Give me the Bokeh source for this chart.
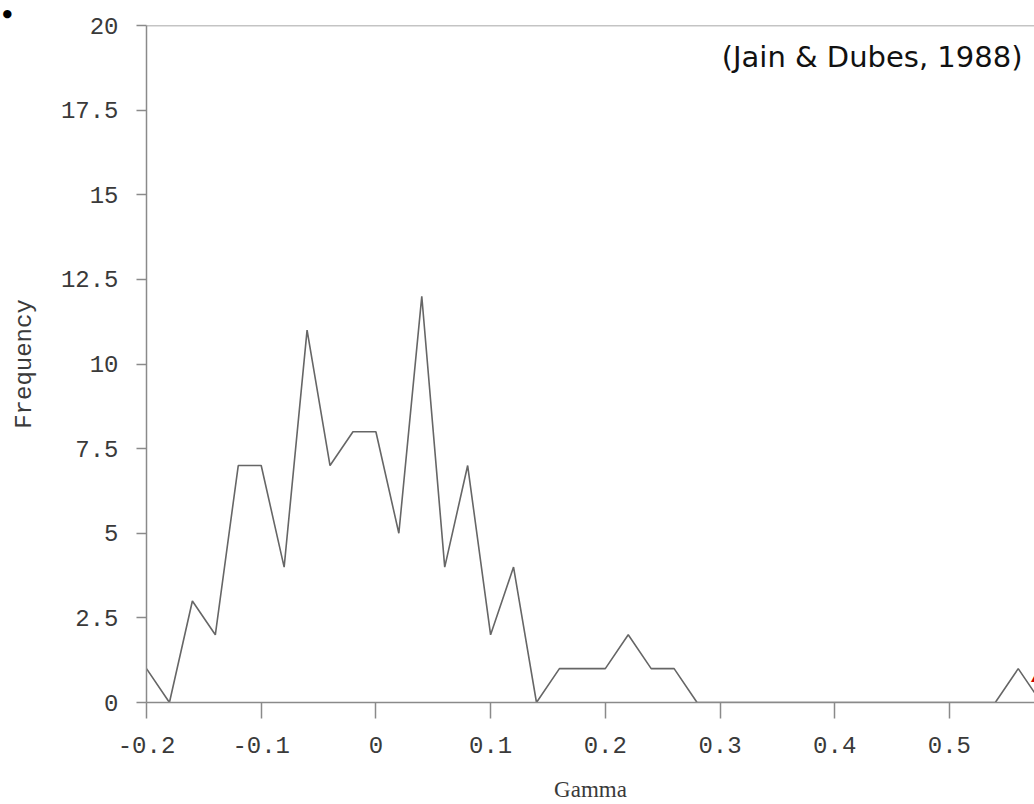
from bokeh.plotting import figure
from bokeh.models import Range1d, FixedTicker, Label, Span
from bokeh.embed import file_html
from bokeh.resources import INLINE

# Frequency polygon of Gamma values (Jain & Dubes, 1988)
gamma = [-0.20, -0.18, -0.16, -0.14, -0.12, -0.10, -0.08, -0.06, -0.04, -0.02,
         0.00, 0.02, 0.04, 0.06, 0.08, 0.10, 0.12, 0.14, 0.16, 0.18,
         0.20, 0.22, 0.24, 0.26, 0.28, 0.30, 0.32, 0.34, 0.36, 0.38,
         0.40, 0.42, 0.44, 0.46, 0.48, 0.50, 0.52, 0.54, 0.56, 0.58, 0.60]
frequency = [1, 0, 3, 2, 7, 7, 4, 11, 7, 8,
             8, 5, 12, 4, 7, 2, 4, 0, 1, 1,
             1, 2, 1, 1, 0, 0, 0, 0, 0, 0,
             0, 0, 0, 0, 0, 0, 0, 0, 1, 0, 0]

x_ticks = [-0.2, -0.1, 0.0, 0.1, 0.2, 0.3, 0.4, 0.5]
x_tick_labels = ["-0.2", "-0.1", "0", "0.1", "0.2", "0.3", "0.4", "0.5"]
y_ticks = [0, 2.5, 5, 7.5, 10, 12.5, 15, 17.5, 20]
y_tick_labels = ["0", "2.5", "5", "7.5", "10", "12.5", "15", "17.5", "20"]

W, H = 1034, 804
LEFT, TOP, BOTTOM = 146, 25, 102
PX_PER_UNIT = 1147.0
frame_w = W - LEFT
x_start = -0.2
x_end = x_start + frame_w / PX_PER_UNIT

p = figure(width=W, height=H, output_backend="svg", toolbar_location=None,
           x_range=Range1d(x_start, x_end), y_range=Range1d(0, 20),
           min_border_left=LEFT, min_border_right=0,
           min_border_top=TOP, min_border_bottom=BOTTOM)
p.outline_line_color = None
p.xgrid.visible = False
p.ygrid.visible = False
p.background_fill_color = "white"
p.border_fill_color = "white"

# small bullet in the top-left corner of the page (as a title)
p.title.text = "\u25cf"
p.title.text_font = "DejaVu Sans"
p.title.text_font_size = "11px"
p.title.text_color = "black"
p.title.align = "left"
p.title.vertical_align = "top"
p.title.standoff = 8
p.title.offset = -(LEFT - 2)

axis_col = "#8a8a8a"
lab_col = "#3a3a3a"

p.xaxis.ticker = FixedTicker(ticks=x_ticks)
p.xaxis.major_label_overrides = {t: s for t, s in zip(x_ticks, x_tick_labels)}
p.yaxis.ticker = FixedTicker(ticks=y_ticks)
p.yaxis.major_label_overrides = {t: s for t, s in zip(y_ticks, y_tick_labels)}

for ax in (p.xaxis[0], p.yaxis[0]):
    ax.axis_line_color = axis_col
    ax.axis_line_width = 1.5
    ax.major_tick_line_color = axis_col
    ax.major_tick_line_width = 1.5
    ax.major_tick_in = 0
    ax.minor_tick_line_color = None
    ax.major_label_text_font = "Liberation Mono"
    ax.major_label_text_font_size = "24px"
    ax.major_label_text_color = lab_col

p.xaxis.major_tick_out = 16
p.xaxis.major_label_standoff = 18
p.yaxis.major_tick_out = 10
p.yaxis.major_label_standoff = 18

p.xaxis.axis_label = "Gamma"
p.xaxis.axis_label_text_font = "Liberation Serif"
p.xaxis.axis_label_text_font_size = "23px"
p.xaxis.axis_label_text_font_style = "normal"
p.xaxis.axis_label_text_color = lab_col
p.xaxis.axis_label_standoff = 21

p.yaxis.axis_label = "Frequency"
p.yaxis.axis_label_text_font = "Liberation Mono"
p.yaxis.axis_label_text_font_size = "24px"
p.yaxis.axis_label_text_font_style = "normal"
p.yaxis.axis_label_text_color = lab_col
p.yaxis.axis_label_standoff = 20

# top border line
p.add_layout(Span(location=20, dimension="width", line_color=axis_col, line_width=1.5))

p.line(gamma, frequency, line_color="#666666", line_width=1.6)

p.add_layout(Label(x=0.5637, y=19.07, text="(Jain & Dubes, 1988)",
                   text_align="right", text_baseline="middle",
                   text_font="DejaVu Sans", text_font_size="29px",
                   text_color="#111111"))

# red letter cut off at the right edge
p.add_layout(Label(x=0.5716, y=0.86, text="A",
                   text_align="left", text_baseline="alphabetic",
                   text_font="Liberation Sans", text_font_size="24px",
                   text_font_style="bold italic", text_color="#cc0000"))

open("out.html", "w").write(file_html(p, INLINE))
